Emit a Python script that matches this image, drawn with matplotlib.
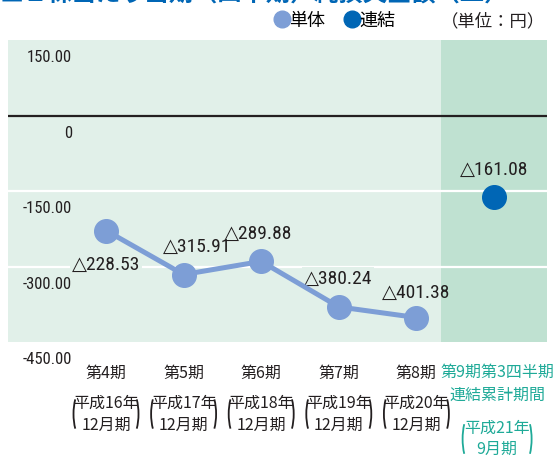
import matplotlib
matplotlib.use('Agg')
import matplotlib.pyplot as plt
from matplotlib.patches import Arc
from matplotlib.lines import Line2D
from matplotlib.transforms import IdentityTransform, blended_transform_factory

# data
periods = ['第4期', '第5期', '第6期', '第7期', '第8期']
period_years = ['平成16年', '平成17年', '平成18年', '平成19年', '平成20年']
period_months = ['12月期', '12月期', '12月期', '12月期', '12月期']
single_values = [-228.53, -315.91, -289.88, -380.24, -401.38]
consol_period = ['第9期第3四半期', '連結累計期間']
consol_year = '平成21年'
consol_month = '9月期'
consol_value = -161.08
yticks = [150, 0, -150, -300, -450]
ytick_labels = ['150.00', '0', '-150.00', '-300.00', '-450.00']

JP = ['Noto Sans CJK JP', 'DejaVu Sans']
NUM = ['Roboto Condensed', 'DejaVu Sans']

bg = '#E1F0E9'
band = '#BFE1D1'
c_single = '#7D9ED6'
c_consol = '#0066B5'
teal = '#1FAA98'
ink = '#231F20'

fig = plt.figure(figsize=(5.58, 4.60), dpi=100)
ax = fig.add_axes([8/558, 1-343/460, 539/558, 302/460])
ax.set_facecolor(bg)
ax.set_xlim(-1.263, 5.683)
ax.set_ylim(-450, 150)
for s in ax.spines.values():
    s.set_visible(False)
ax.set_xticks([])
ax.set_yticks([])

# band for the consolidated period
ax.axvspan(4.317, 5.683, color=band, lw=0, zorder=0)
ax.axhline(0, color=ink, lw=1.6, zorder=2)
for g in (-150, -300):
    ax.axhline(g, color='white', lw=1.6, zorder=1)

# y labels sit just under their line
ytr = blended_transform_factory(ax.transAxes, ax.transData)
for v, lab in zip(yticks, ytick_labels):
    ax.annotate(lab, (0.119, v), xycoords=ytr, xytext=(0, -17), textcoords='offset pixels',
                ha='right', va='center', fontsize=12, family=NUM, color=ink,
                annotation_clip=False)

xs = list(range(len(single_values)))
ax.plot(xs, single_values, color=c_single, lw=3.6, marker='o', markersize=17, zorder=4,
        solid_capstyle='round')
ax.plot([5], [consol_value], ls='', marker='o', color=c_consol, markersize=17, zorder=4)

# labels 1 and 4 sit on the -300 gridline and blank it out
offsets = [(0, -33), (14, 29), (-3, 28), (-1, 29), (0, 26)]
boxed = [True, False, False, True, False]
for x, v, off, b in zip(xs, single_values, offsets, boxed):
    box = dict(boxstyle='square,pad=0.1', fc=bg, ec='none') if b else None
    ax.annotate('△%.2f' % abs(v), (x, v), xytext=off, textcoords='offset pixels',
                ha='center', va='center', fontsize=14, family=NUM, color=ink, zorder=3,
                bbox=box)
ax.annotate('△%.2f' % abs(consol_value), (5, consol_value), xytext=(0, 28),
            textcoords='offset pixels', ha='center', va='center', fontsize=14,
            family=NUM, color=ink, zorder=3)

# category labels under the plot
xtr = blended_transform_factory(ax.transData, fig.transFigure)


def parens(xc, yc_px, half_w, half_h, color):
    px = ax.transData.transform((xc, 0))[0]
    a = 12
    b = half_h / 0.819
    fig.add_artist(Arc((px - half_w + a, yc_px), 2*a, 2*b, theta1=125, theta2=235,
                       transform=IdentityTransform(), color=color, lw=1.3))
    fig.add_artist(Arc((px + half_w - a, yc_px), 2*a, 2*b, theta1=-55, theta2=55,
                       transform=IdentityTransform(), color=color, lw=1.3))


for x, p, yr, mo in zip(xs, periods, period_years, period_months):
    fig.text(x, 1-373/460, p, transform=xtr, ha='center', va='center', fontsize=11.5,
             family=JP, color=ink)
    fig.text(x, 1-403/460, yr, transform=xtr, ha='center', va='center', fontsize=11.5,
             family=JP, color=ink)
    fig.text(x, 1-425/460, mo, transform=xtr, ha='center', va='center', fontsize=11.5,
             family=JP, color=ink)
    parens(x, 460-415, 32.5, 23, ink)

fig.text(5.04, 1-372/460, consol_period[0], transform=xtr, ha='center', va='center',
         fontsize=11.5, family=JP, color=teal)
fig.text(5.04, 1-395/460, consol_period[1], transform=xtr, ha='center', va='center',
         fontsize=11.5, family=JP, color=teal)
fig.text(5.04, 1-428/460, consol_year, transform=xtr, ha='center', va='center',
         fontsize=11.5, family=JP, color=teal)
fig.text(5.04, 1-449/460, consol_month, transform=xtr, ha='center', va='center',
         fontsize=11.5, family=JP, color=teal)
parens(5.04, 460-440, 34.5, 24, teal)

# cropped heading, legend and unit
fig.text(0.0, 0.986, '■１株当たり当期（四半期）純損失金額（△）', ha='left', va='bottom',
         fontsize=17.5, fontweight='bold', family=JP, color=c_consol)
handles = [Line2D([], [], ls='', marker='o', markersize=12, color=c_single, label='単体'),
           Line2D([], [], ls='', marker='o', markersize=12, color=c_consol, label='連結')]
fig.legend(handles=handles, loc='center left', bbox_to_anchor=(262/558, 1-21/460),
           ncol=2, frameon=False, prop={'family': JP, 'size': 13},
           handletextpad=-0.2, columnspacing=0.9, borderpad=0, handlelength=1.2)
fig.text(545/558, 1-21/460, '（単位：円）', ha='right', va='center', fontsize=12.5,
         family=JP, color=ink)

fig.savefig('out.png', dpi=100)
